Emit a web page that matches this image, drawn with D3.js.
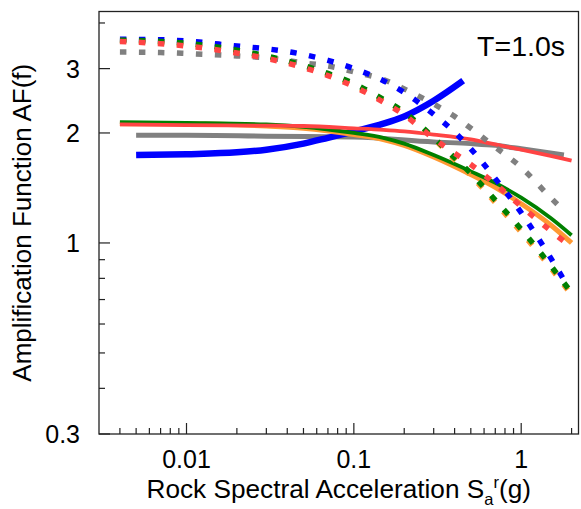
<!DOCTYPE html>
<html>
<head>
<meta charset="utf-8">
<script src="https://cdn.jsdelivr.net/npm/d3@7"></script>
<style>
  body { margin: 0; background: #fff; }
  svg text { font-family: "Liberation Sans", Arial, sans-serif; fill: #000; }
</style>
</head>
<body>
<div id="chart"></div>
<script>
// rock spectral acceleration (g) sample points
var saDotted = [0.004, 0.007, 0.01, 0.02, 0.03, 0.05, 0.07, 0.1, 0.15, 0.2, 0.3, 0.4, 0.5, 0.7, 1.0, 1.5, 1.85]
var saDottedLong = [0.004, 0.007, 0.01, 0.02, 0.03, 0.05, 0.07, 0.1, 0.15, 0.2, 0.3, 0.4, 0.5, 0.7, 1.0, 1.5, 2.0]
var saSolid = [0.004, 0.01, 0.03, 0.05, 0.1, 0.15, 0.2, 0.3, 0.5, 0.7, 1.0, 1.5, 2.0]
var saBlueSolid = [0.005, 0.01, 0.02, 0.03, 0.05, 0.07, 0.1, 0.15, 0.2, 0.3, 0.45]
var saGraySolid = [0.005, 0.01, 0.03, 0.1, 0.3, 0.5, 0.7, 1.0, 1.8]

// amplification values
var afBlueDotted = [3.61, 3.60, 3.57, 3.46, 3.40, 3.28, 3.16, 3.0, 2.78, 2.58, 2.25, 2.01, 1.81, 1.50, 1.21, 0.91, 0.776]
var afGrayDotted = [3.33, 3.32, 3.30, 3.25, 3.21, 3.11, 3.05, 2.94, 2.80, 2.64, 2.40, 2.22, 2.06, 1.83, 1.61, 1.33, 1.21]
var afOrangeDotted = [3.58, 3.54, 3.49, 3.34, 3.23, 3.04, 2.89, 2.70, 2.45, 2.26, 1.93, 1.69, 1.53, 1.29, 1.07, 0.855, 0.72]
var afGreenDotted = [3.59, 3.56, 3.52, 3.37, 3.25, 3.06, 2.91, 2.73, 2.47, 2.28, 1.94, 1.71, 1.55, 1.31, 1.09, 0.867, 0.73]
var afRedDotted = [3.56, 3.51, 3.46, 3.31, 3.20, 3.02, 2.87, 2.68, 2.43, 2.24, 1.93, 1.76, 1.64, 1.45, 1.26, 1.08, 0.974]

var afBlueSolid = [1.74, 1.75, 1.77, 1.80, 1.87, 1.94, 2.02, 2.12, 2.22, 2.45, 2.78]
var afGraySolid = [1.97, 1.97, 1.96, 1.95, 1.89, 1.87, 1.85, 1.81, 1.74]
var afOrangeSolid = [2.12, 2.12, 2.09, 2.06, 1.98, 1.92, 1.85, 1.72, 1.54, 1.42, 1.28, 1.12, 1.0]
var afGreenSolid = [2.14, 2.13, 2.11, 2.08, 2.0, 1.94, 1.87, 1.74, 1.57, 1.46, 1.33, 1.17, 1.05]
var afRedSolid = [2.11, 2.10, 2.095, 2.09, 2.06, 2.04, 2.02, 1.98, 1.92, 1.86, 1.80, 1.73, 1.68]

var xTickLabels = [0.01, 0.1, 1]
var yTickLabels = [0.3, 1, 2, 3]
var xMinorTicks = [0.004, 0.005, 0.006, 0.007, 0.008, 0.009, 0.02, 0.03, 0.04, 0.05, 0.06, 0.07, 0.08, 0.09,
  0.2, 0.3, 0.4, 0.5, 0.6, 0.7, 0.8, 0.9, 2]
var yMinorTicks = [0.4, 0.5, 0.6, 0.7, 0.8, 0.9, 4]

var width = 581
var height = 509
var margin = { top: 11.5, right: 2.5, bottom: 75, left: 99 }

var svg = d3.select('#chart').append('svg')
  .attr('width', width)
  .attr('height', height)

var x = d3.scaleLog()
  .domain([0.003, 2.2])
  .range([margin.left, width - margin.right])

var y = d3.scaleLog()
  .domain([0.3, 4.3])
  .range([height - margin.bottom, margin.top])

var zip = (xs, ys) => xs.map((d, i) => [d, ys[i]])

var line = d3.line()
  .x(d => x(d[0]))
  .y(d => y(d[1]))
  .curve(d3.curveMonotoneX)

// solid curves first, dotted drawn on top
var solid = [
  { sa: saGraySolid, af: afGraySolid, color: '#808080', w: 5 },
  { sa: saBlueSolid, af: afBlueSolid, color: '#0000ff', w: 6.5 },
  { sa: saSolid, af: afOrangeSolid, color: '#ff9933', w: 5 },
  { sa: saSolid, af: afGreenSolid, color: '#008000', w: 3.8 },
  { sa: saSolid, af: afRedSolid, color: '#ff4444', w: 3.8 }
]
var dotted = [
  { sa: saDotted, af: afGrayDotted, color: '#808080' },
  { sa: saDotted, af: afBlueDotted, color: '#0000ff' },
  { sa: saDottedLong, af: afOrangeDotted, color: '#ff9933' },
  { sa: saDottedLong, af: afGreenDotted, color: '#008000' },
  { sa: saDottedLong, af: afRedDotted, color: '#ff4444' }
]

svg.append('g')
  .attr('fill', 'none')
  .selectAll('path')
  .data(solid)
  .enter()
  .append('path')
  .attr('d', d => line(zip(d.sa, d.af)))
  .attr('stroke', d => d.color)
  .attr('stroke-width', d => d.w)

svg.append('g')
  .attr('fill', 'none')
  .selectAll('path')
  .data(dotted)
  .enter()
  .append('path')
  .attr('d', d => line(zip(d.sa, d.af)))
  .attr('stroke', d => d.color)
  .attr('stroke-width', 5.5)
  .attr('stroke-dasharray', '6.5,12.5')

// frame
var x0 = x.range()[0], x1 = x.range()[1]
var y0 = y.range()[0], y1 = y.range()[1]
svg.append('rect')
  .attr('x', x0)
  .attr('y', y1)
  .attr('width', x1 - x0)
  .attr('height', y0 - y1)
  .attr('fill', 'none')
  .attr('stroke', '#222')
  .attr('stroke-width', 1.3)

// ticks (pointing inward)
var ticks = svg.append('g').attr('stroke', '#222').attr('stroke-width', 1.2)
ticks.selectAll('.xmaj').data(xTickLabels).enter().append('line')
  .attr('x1', d => x(d)).attr('x2', d => x(d))
  .attr('y1', y0).attr('y2', y0 - 11)
ticks.selectAll('.xmin').data(xMinorTicks).enter().append('line')
  .attr('x1', d => x(d)).attr('x2', d => x(d))
  .attr('y1', y0).attr('y2', y0 - 6)
ticks.selectAll('.ymaj').data(yTickLabels).enter().append('line')
  .attr('y1', d => y(d)).attr('y2', d => y(d))
  .attr('x1', x0).attr('x2', x0 + 11)
ticks.selectAll('.ymin').data(yMinorTicks).enter().append('line')
  .attr('y1', d => y(d)).attr('y2', d => y(d))
  .attr('x1', x0).attr('x2', x0 + 6)

svg.append('g')
  .style('font-size', '25px')
  .attr('text-anchor', 'middle')
  .selectAll('text')
  .data(xTickLabels)
  .enter()
  .append('text')
  .attr('x', d => x(d))
  .attr('y', 468)
  .text(d => d)

svg.append('g')
  .style('font-size', '25px')
  .attr('text-anchor', 'end')
  .selectAll('text')
  .data(yTickLabels)
  .enter()
  .append('text')
  .attr('x', 80)
  .attr('y', d => y(d))
  .attr('dy', '0.36em')
  .text(d => d)

// axis titles
svg.append('text')
  .attr('transform', 'translate(31,' + ((y0 + y1) / 2) + ') rotate(-90)')
  .attr('text-anchor', 'middle')
  .style('font-size', '26px')
  .text('Amplification Function AF(f)')

var xt = svg.append('text')
  .attr('x', (x0 + x1) / 2)
  .attr('y', 498)
  .attr('text-anchor', 'middle')
  .style('font-size', '26.2px')
xt.append('tspan').text('Rock Spectral Acceleration S')
xt.append('tspan').attr('dy', 7).style('font-size', '16.5px').text('a')
xt.append('tspan').attr('dy', -17).style('font-size', '16.5px').text('r')
xt.append('tspan').attr('dy', 10).text('(g)')

svg.append('text')
  .attr('x', 565)
  .attr('y', 56)
  .attr('text-anchor', 'end')
  .style('font-size', '28.5px')
  .text('T=1.0s')
</script>
</body>
</html>
